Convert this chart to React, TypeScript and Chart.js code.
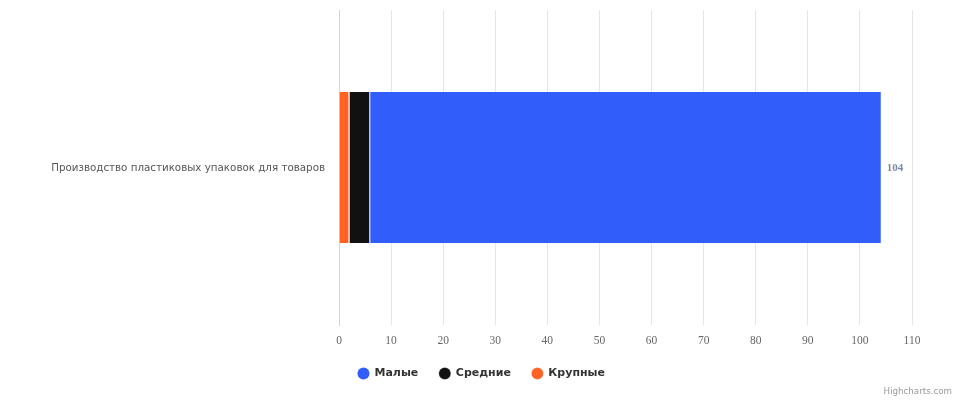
import React, { useEffect, useRef } from "react";
import { Chart, registerables } from "chart.js";

Chart.register(...registerables);

const categories = ["Производство пластиковых упаковок для товаров"];
const seriesNames = ["Малые", "Средние", "Крупные"];
const smallValues = [98];
const mediumValues = [4];
const largeValues = [2];
const seriesColors = ["#315efb", "#111111", "#ff6324"];
const xMax = 110;
const xStep = 10;

const W = 963;
const H = 400;
const PLOT_LEFT = 339;
const PLOT_RIGHT = 912;
const PLOT_TOP = 10;
const PLOT_BOTTOM = 325;
const PAD_BOTTOM = 11;

export default function App() {
  const ref = useRef<HTMLCanvasElement | null>(null);

  useEffect(() => {
    if (!ref.current) return;
    const totalsPlugin = {
      id: "totals",
      beforeDraw(chart: any) {
        const lg = chart.legend;
        if (lg) {
          lg.left = 0;
          lg.right = W;
          lg.width = W;
          lg.adjustHitBoxes && lg.adjustHitBoxes();
        }
      },
      afterDatasetsDraw(chart: any) {
        const ctx = chart.ctx;
        const xs = chart.scales.x;
        const ys = chart.scales.y;
        categories.forEach((_, i) => {
          const total = smallValues[i] + mediumValues[i] + largeValues[i];
          const x = xs.getPixelForValue(total) + 6;
          const y = ys.getPixelForValue(i);
          ctx.save();
          ctx.font = "bold 11px 'Liberation Serif'";
          ctx.fillStyle = "#7c86a6";
          ctx.textAlign = "left";
          ctx.textBaseline = "middle";
          ctx.fillText(String(total), x, y + 1);
          ctx.restore();
        });
      },
      afterDraw(chart: any) {
        const ctx = chart.ctx;
        ctx.save();
        ctx.font = "8.7px 'DejaVu Sans'";
        ctx.fillStyle = "#999999";
        ctx.textAlign = "right";
        ctx.textBaseline = "middle";
        ctx.fillText("Highcharts.com", 952, 392);
        ctx.restore();
      },
    };

    const chart = new Chart(ref.current, {
      type: "bar",
      data: {
        labels: categories,
        datasets: [
          {
            label: seriesNames[2],
            data: largeValues,
            backgroundColor: seriesColors[2],
            borderColor: "#ffffff",
            borderWidth: { right: 1 },
            borderSkipped: false,
          },
          {
            label: seriesNames[1],
            data: mediumValues,
            backgroundColor: seriesColors[1],
            borderColor: "#ffffff",
            borderWidth: { right: 1 },
            borderSkipped: false,
          },
          {
            label: seriesNames[0],
            data: smallValues,
            backgroundColor: seriesColors[0],
            borderColor: "#ffffff",
            borderWidth: 0,
          },
        ] as any,
      },
      options: {
        indexAxis: "y",
        animation: false,
        responsive: false,
        maintainAspectRatio: false,
        layout: {
          padding: { left: 0, right: W - PLOT_RIGHT, top: PLOT_TOP, bottom: PAD_BOTTOM },
        },
        datasets: {
          bar: { categoryPercentage: 1, barPercentage: 0.48 },
        },
        scales: {
          x: {
            stacked: true,
            min: 0,
            max: xMax,
            ticks: {
              stepSize: xStep,
              color: "#666666",
              font: { family: "'Liberation Serif'", size: 11.5 },
              padding: 9,
            },
            grid: { color: "#e6e6e6", drawTicks: false, lineWidth: 1 },
            border: { display: false },
            afterFit(scale: any) {
              const lh = scale.chart.legend ? scale.chart.legend.height : 0;
              scale.height = H - PLOT_BOTTOM - PAD_BOTTOM - lh;
              scale.paddingLeft = 0;
            },
          },
          y: {
            stacked: true,
            ticks: {
              color: "#555555",
              font: { family: "'DejaVu Sans'", size: 10.3 },
              padding: 6,
              labelOffset: 1,
            },
            grid: { display: false },
            border: { display: true, color: "#ccd6eb" },
            afterFit(scale: any) {
              scale.width = PLOT_LEFT;
              scale.paddingTop = 0;
              scale.paddingBottom = 0;
            },
          },
        },
        plugins: {
          legend: {
            position: "bottom",
            reverse: true,
            labels: {
              usePointStyle: true,
              pointStyle: "circle",
              boxWidth: 14,
              boxHeight: 8.5,
              padding: 21,
              color: "#333333",
              font: { family: "'DejaVu Sans'", size: 11, weight: "bold" },
            },
          },
          tooltip: { enabled: false },
        },
      },
      plugins: [totalsPlugin],
    });
    return () => chart.destroy();
  }, []);

  return (
    <div style={{ position: "absolute", left: 0, top: 0, width: W, height: H, background: "#fff" }}>
      <canvas ref={ref} width={W} height={H} style={{ width: W, height: H }} />
    </div>
  );
}
